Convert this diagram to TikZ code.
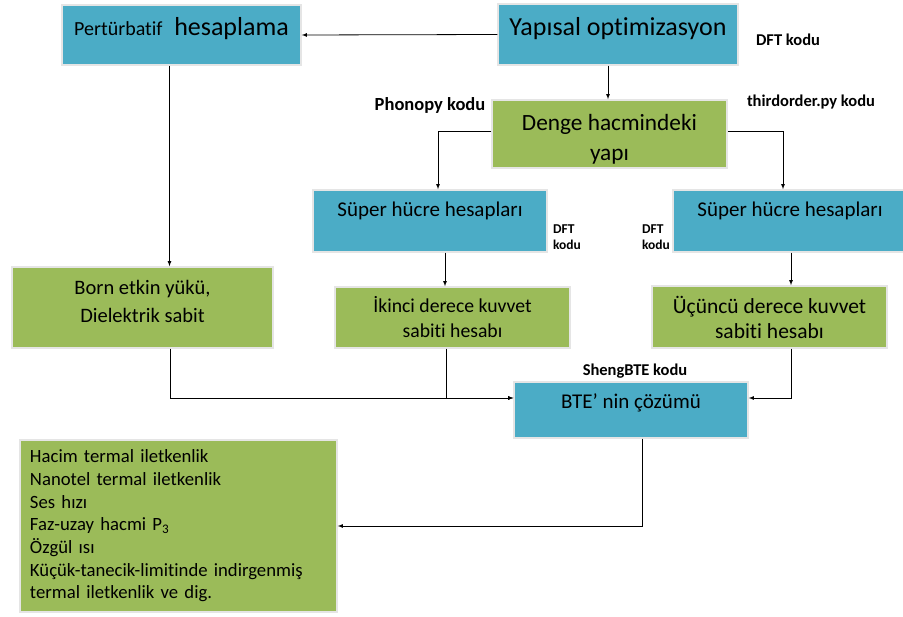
\documentclass[tikz,border=0pt]{standalone}
\usepackage{fontspec}
\setmainfont{Carlito}[Ligatures=NoCommon]
\usetikzlibrary{positioning,shadows}
\definecolor{boxblue}{RGB}{75,172,198}
\definecolor{boxgreen}{RGB}{155,187,89}
\begin{document}
\begin{tikzpicture}[x=1pt,y=-1pt,>=latex]
    \tikzstyle{block} = [rectangle,draw=gray!20,line width=1.5pt,drop shadow={shadow xshift=1.2pt,shadow yshift=-1.2pt,fill=gray!50},text centered,align=center,font=\fontsize{21}{25}\selectfont]
    \tikzstyle{bluebox} = [block,fill=boxblue]
    \tikzstyle{greenbox} = [block,fill=boxgreen]
    \tikzstyle{code} = [font=\bfseries\fontsize{16.5}{18}\selectfont]
    \tikzstyle{smallcode} = [align=left,font=\bfseries\fontsize{13.5}{16}\selectfont]
    \tikzstyle{link} = [line width=0.8pt]
    \useasboundingbox (0,0) rectangle (903,617);
    \node (pert)[bluebox,minimum width=239pt,minimum height=60pt,font=\fontsize{26}{30}\selectfont,text height=18pt,text depth=17pt] at (181.5,35) {{\fontsize{20}{24}\selectfont Pertürbatif}\ \ hesaplama};
    \node (yapi)[bluebox,minimum width=240pt,minimum height=61pt,font=\fontsize{26}{30}\selectfont,text height=18pt,text depth=15pt] at (618,34.5) {Yapısal optimizasyon};
    \node (denge)[greenbox,minimum width=235pt,minimum height=68pt,font=\fontsize{23.3}{30}\selectfont] at (609.5,134) {\rule{0pt}{26pt}Denge hacmindeki\\yapı};
    \node (sup1)[bluebox,minimum width=234pt,minimum height=62pt,text height=15pt,text depth=23pt] at (430,221) {Süper hücre hesapları};
    \node (sup2)[bluebox,minimum width=234pt,minimum height=62pt,text height=15pt,text depth=23pt] at (790,221) {Süper hücre hesapları};
    \node (ikinci)[greenbox,minimum width=235pt,minimum height=61pt,font=\fontsize{19.7}{25}\selectfont] at (452.5,317.5) {İkinci derece kuvvet\\sabiti hesabı};
    \node (ucuncu)[greenbox,minimum width=235pt,minimum height=62pt,font=\fontsize{21.5}{25}\selectfont] at (769.5,317) {Üçüncü derece kuvvet\\sabiti hesabı};
    \node (born)[greenbox,minimum width=261pt,minimum height=81pt,font=\fontsize{20.5}{28}\selectfont,text depth=13pt] at (142.5,307.5) {Born etkin yükü,\\Dielektrik sabit};
    \node (bte)[bluebox,minimum width=234pt,minimum height=56pt,text height=15pt,text depth=17pt] at (631,410) {BTE’ nin çözümü};
    \node (result)[greenbox,minimum width=317pt,minimum height=172pt,inner xsep=10pt,text width=297pt,align=left,font=\fontsize{18.7}{22.7}\selectfont] at (178.5,526) {Hacim termal iletkenlik\\Nanotel termal iletkenlik\\Ses hızı\\Faz-uzay hacmi P\textsubscript{3}\\Özgül ısı\\Küçük-tanecik-limitinde indirgenmiş\\termal iletkenlik ve dig.};
    % kod etiketleri
    \node (dftyapi)[code] at (788,40) {DFT kodu};
    \node (phonopy)[code,font=\bfseries\fontsize{18.5}{20}\selectfont] at (430,105) {Phonopy kodu};
    \node (thirdorder)[code] at (811,102) {thirdorder.py kodu};
    \node (dftsup1)[smallcode] at (567,237) {DFT\\kodu};
    \node (dftsup2)[smallcode] at (656,237) {DFT\\kodu};
    \node (shengbte)[code] at (635,371) {ShengBTE kodu};
    % baglantilar
    \draw [link,->] (yapi.west) -- (pert.east);
    \draw [link,->] ([xshift=-10pt]yapi.south) -- ([xshift=-10pt]yapi.south |- denge.north);
    \draw [link,->] ([yshift=3pt]denge.west) -| ([xshift=8pt]sup1.north);
    \draw [link,->] ([yshift=3pt]denge.east) -| ([xshift=-7pt]sup2.north);
    \draw [link,->] ([xshift=15pt]sup1.south) -- ([xshift=15pt]sup1.south |- ikinci.north);
    \draw [link,->] ([xshift=1pt]sup2.south) -- ([xshift=1pt]sup2.south |- ucuncu.north);
    \draw [link,->] ([xshift=-12pt]pert.south) -- ([xshift=-12pt]pert.south |- born.north);
    \draw [link,->] ([xshift=27.5pt]born.south) |- ([yshift=12pt]bte.west);
    \draw [link,->] ([xshift=-6.5pt]ikinci.south) |- ([yshift=12pt]bte.west);
    \draw [link,->] ([xshift=21.5pt]ucuncu.south) |- ([yshift=12pt]bte.east);
    \draw [link,->] ([xshift=11pt]bte.south) |- (result.east);
\end{tikzpicture}
\end{document}
